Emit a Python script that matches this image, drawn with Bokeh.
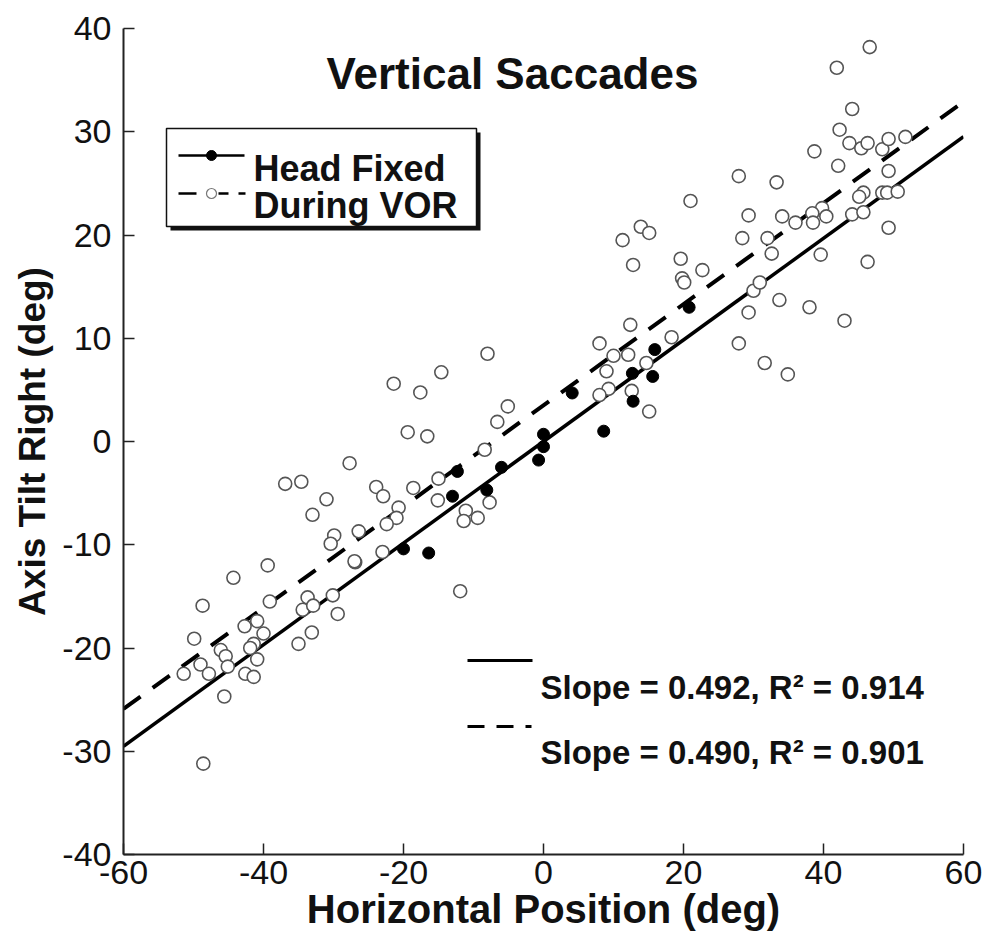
from bokeh.plotting import figure
from bokeh.models import FixedTicker, Range1d, PrintfTickFormatter
from bokeh.core.properties import value
from bokeh.embed import file_html
from bokeh.resources import INLINE

# ---------------- data ----------------
title_text = "Vertical Saccades"
x_label = "Horizontal Position (deg)"
y_label = "Axis Tilt Right (deg)"
x_ticks = [-60, -40, -20, 0, 20, 40, 60]
y_ticks = [-40, -30, -20, -10, 0, 10, 20, 30, 40]

series_names = ["Head Fixed", "During VOR"]

head_fixed_x = [-20.0, -16.4, -13.0, -12.3, -8.1, -6.0, 0.0, 0.0, -0.7, 4.1,
                8.6, 12.7, 12.8, 15.9, 15.6, 20.8]
head_fixed_y = [-10.4, -10.8, -5.3, -2.9, -4.7, -2.5, 0.7, -0.5, -1.8, 4.7,
                1.0, 6.6, 3.9, 8.9, 6.3, 13.0]

vor_x = [-39.4, -44.3, -26.9, -48.7, -39.1, -33.7, -34.4, -32.9, -30.1, -29.4,
         -33.1, -35.0, -42.7, -40.9, -40.0, -41.4, -41.9, -40.9, -42.6, -41.4,
         -49.9, -46.1, -45.4, -45.1, -49.0, -47.8, -51.4, -45.6, -48.6,
         -19.4, -16.6, -27.7, -36.9, -34.6, -31.0, -33.0, -23.9, -22.9, -18.6,
         -15.0, -15.1, -20.7, -21.0, -22.4, -26.4, -29.9, -30.4, -27.0, -23.0,
         -11.1, -11.4, -9.4, -11.9, -7.7, -8.0, -14.6, -21.4, -17.6, -5.1,
         -6.6, -8.4,
         8.0, 10.0, 9.0, 9.3, 8.0, 21.0, 29.3, 34.1, 36.0, 28.4,
         32.0, 32.6, 13.9, 15.1, 11.3, 12.8, 19.6, 19.8, 20.1, 22.7,
         30.0, 30.9, 33.7, 29.3, 27.9, 31.6, 34.9, 12.4, 12.1, 18.3,
         14.7, 12.6, 15.1,
         46.6, 41.9, 44.1, 42.3, 43.7, 45.4, 46.3, 48.4, 49.3, 51.7,
         38.7, 42.1, 49.3, 33.3, 27.9, 45.7, 45.1, 48.4, 49.1, 50.6,
         44.1, 45.7, 39.8, 40.4, 38.4, 38.5, 39.6, 49.3, 46.3, 38.0, 43.0]
vor_y = [-12.0, -13.2, -11.7, -15.9, -15.5, -15.1, -16.3, -15.9, -14.9, -16.7,
         -18.5, -19.6, -17.9, -17.4, -18.6, -19.6, -20.0, -21.1, -22.5, -22.8,
         -19.1, -20.2, -20.8, -21.8, -21.6, -22.5, -22.5, -24.7, -31.2,
         0.9, 0.5, -2.1, -4.1, -3.9, -5.6, -7.1, -4.4, -5.3, -4.5,
         -3.6, -5.7, -6.4, -7.4, -8.0, -8.7, -9.1, -9.9, -11.6, -10.7,
         -6.7, -7.7, -7.4, -14.5, -5.9, 8.5, 6.7, 5.6, 4.75, 3.4,
         1.9, -0.8,
         9.5, 8.3, 6.8, 5.1, 4.5, 23.3, 21.9, 21.8, 21.2, 19.7,
         19.7, 18.2, 20.8, 20.2, 19.5, 17.1, 17.7, 15.8, 15.4, 16.6,
         14.6, 15.4, 13.7, 12.5, 9.5, 7.6, 6.5, 11.3, 8.4, 10.1,
         7.6, 4.9, 2.9,
         38.2, 36.2, 32.2, 30.2, 28.9, 28.4, 28.9, 28.3, 29.3, 29.5,
         28.1, 26.7, 26.2, 25.1, 25.7, 24.1, 23.7, 24.1, 24.1, 24.2,
         22.0, 22.2, 22.6, 21.8, 22.1, 21.2, 18.1, 20.7, 17.4, 13.0, 11.7]

fit_slopes = [0.492, 0.490]
fit_intercepts = [0.0, 3.5]
fit_r2 = [0.914, 0.901]
fit_x_ends = [-60, 60]

# ---------------- layout ----------------
W, H = 992, 941
FL, FR, FT, FB = 123, 963, 28, 854
XMIN, XMAX, YMIN, YMAX = -60, 60, -40, 40
FONT = value("Liberation Sans")


def X(px):
    return XMIN + (px - FL) / (FR - FL) * (XMAX - XMIN)


def Y(py):
    return YMAX - (py - FT) / (FB - FT) * (YMAX - YMIN)


p = figure(frame_width=FR - FL, frame_height=FB - FT,
           x_range=Range1d(XMIN, XMAX), y_range=Range1d(YMIN, YMAX),
           min_border_left=FL, min_border_right=W - FR,
           min_border_top=FT, min_border_bottom=H - FB,
           output_backend="svg", toolbar_location=None,
           background_fill_color="white", border_fill_color="white")
p.outline_line_color = None
p.grid.visible = False

for ax in (p.xaxis[0], p.yaxis[0]):
    ax.axis_line_color = "#222222"
    ax.axis_line_width = 2
    ax.major_tick_in = 11
    ax.major_tick_out = 0
    ax.major_tick_line_color = "#222222"
    ax.major_tick_line_width = 1.5
    ax.minor_tick_line_color = None
    ax.major_label_text_font = "Liberation Sans"
    ax.major_label_text_font_size = "34px"
    ax.major_label_text_color = "#111111"
    ax.axis_label_text_font = "Liberation Sans"
    ax.axis_label_text_font_style = "bold"
    ax.axis_label_text_color = "#111111"
    ax.formatter = PrintfTickFormatter(format="%d")

p.xaxis.ticker = FixedTicker(ticks=x_ticks)
p.yaxis.ticker = FixedTicker(ticks=y_ticks)
p.xaxis.axis_label = x_label
p.yaxis.axis_label = y_label
p.xaxis.axis_label_text_font_size = "40px"
p.yaxis.axis_label_text_font_size = "37px"
p.xaxis.major_label_standoff = 6
p.yaxis.major_label_standoff = 12
p.xaxis.axis_label_standoff = 0
p.yaxis.axis_label_standoff = 6

# regression lines
for i, (m, b) in enumerate(zip(fit_slopes, fit_intercepts)):
    ys = [m * x + b for x in fit_x_ends]
    if i == 0:
        p.line(fit_x_ends, ys, line_color="black", line_width=3.5)
    else:
        p.line(fit_x_ends, ys, line_color="black", line_width=4, line_dash="21 15")

# points
p.scatter(vor_x, vor_y, marker="circle", size=13, fill_color="white",
          line_color="#555555", line_width=1.6)
p.scatter(head_fixed_x, head_fixed_y, marker="circle", size=12,
          fill_color="black", line_color="black")

# title (inside the frame)
p.text(x=[X(512)], y=[Y(73)], text=[title_text], text_font=FONT,
       text_font_size="44px", text_font_style="bold", text_align="center",
       text_baseline="alphabetic", text_color="#111111")

# legend box with shadow
p.quad(left=[X(170)], right=[X(480)], top=[Y(132)], bottom=[Y(230)],
       fill_color="#111111", line_color=None)
p.quad(left=[X(166)], right=[X(476)], top=[Y(128)], bottom=[Y(226)],
       fill_color="white", line_color="#111111", line_width=1.5)
p.line([X(178), X(244)], [Y(155), Y(155)], line_color="black", line_width=2.5)
p.scatter([X(211)], [Y(155)], marker="circle", size=10, fill_color="black",
          line_color="black")
p.line([X(178), X(245)], [Y(193), Y(193)], line_color="black", line_width=2.5,
       line_dash="18 22 10 10 7")
p.scatter([X(211)], [Y(193)], marker="circle", size=10, fill_color="white",
          line_color="#777777", line_width=1.2)
p.text(x=[X(253), X(253)], y=[Y(168), Y(205)], text=series_names,
       text_font=FONT, text_font_size="36px", text_font_style="bold",
       text_align="left", text_baseline="alphabetic", text_color="#111111")

# fit annotations
p.line([X(467), X(532)], [Y(660), Y(660)], line_color="black", line_width=3)
p.line([X(467), X(531)], [Y(726), Y(726)], line_color="black", line_width=3,
       line_dash="17 12")
fit_texts = [f"Slope = {m:.3f}, R\u00b2 = {r:.3f}" for m, r in zip(fit_slopes, fit_r2)]
p.text(x=[X(540), X(540)], y=[Y(687), Y(752)], text=fit_texts,
       text_font=FONT, text_font_size="33px", text_font_style="bold",
       text_align="left", text_baseline="alphabetic", text_color="#111111")

open("out.html", "w").write(file_html(p, INLINE))
